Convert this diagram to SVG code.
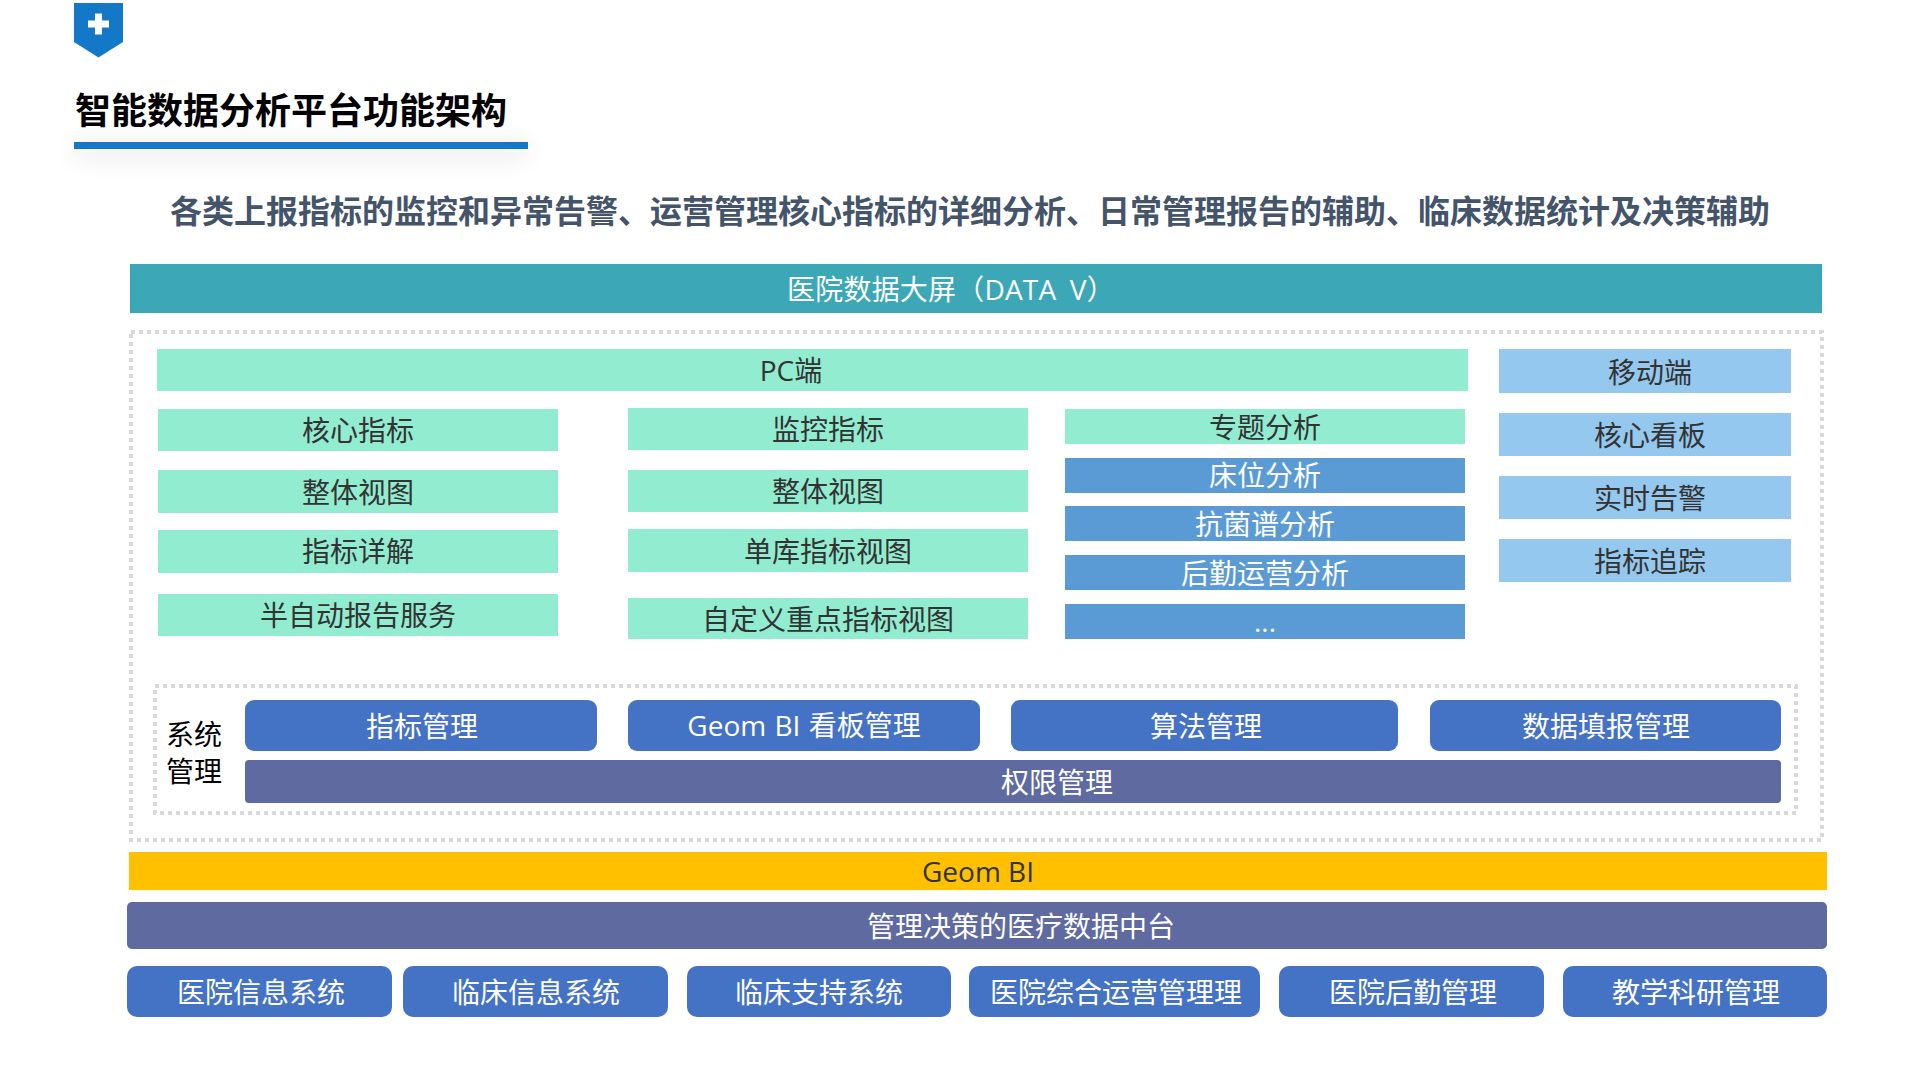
<svg xmlns="http://www.w3.org/2000/svg" width="1920" height="1080" viewBox="0 0 1920 1080">
<style>
text{font-family:"Open Sans","Noto Sans CJK SC",sans-serif;text-anchor:middle;font-size:28px;font-weight:400}
.w{fill:#fff}.d{fill:#333}.m{fill:#92ecd0}.l{fill:#94c8ee}.b{fill:#5b9bd5}.r{fill:#4472c4}.p{fill:#5e6aa0}
.dot{fill:none;stroke:#d9d9d9;stroke-width:4;stroke-dasharray:4 4}
</style>
<defs><filter id="s" x="-10%" y="-400%" width="120%" height="900%"><feGaussianBlur stdDeviation="12"/></filter></defs>
<rect width="1920" height="1080" fill="#fff"/>
<g id="header">
<path d="M74 3H123V42L98.500 57.500L74 42Z" fill="#1478c8"/>
<path d="M95 13.500h7v7h7v7h-7v7h-7v-7h-7v-7h7z" fill="#fff"/>
<text x="291" y="124" style="font-size:36px;font-weight:700" fill="#000">智能数据分析平台功能架构</text>
<rect x="74" y="144" width="454" height="14" fill="#000" opacity=".09" filter="url(#s)"/>
<rect x="74" y="142" width="454" height="7" fill="#1478c8"/>
<text x="970" y="223" style="font-size:32px;font-weight:700" fill="#44546a">各类上报指标的监控和异常告警、运营管理核心指标的详细分析、日常管理报告的辅助、临床数据统计及决策辅助</text>
</g>
<g id="frames">
<rect class="dot" x="131" y="332" width="1691" height="508"/>
<rect class="dot" x="155" y="686" width="1641" height="127"/>
</g>
<g id="dataV"><rect x="130" y="264" width="1692" height="49" fill="#3ba7b7"/><text class="w" x="951" y="300" style="word-spacing:6px;letter-spacing:.2px">医院数据大屏（DATA V）</text></g>
<g id="pc"><rect class="m" x="157" y="349" width="1311" height="42"/><text class="d" x="791" y="381">PC端</text></g>
<g id="n1"><rect class="m" x="158" y="409" width="400" height="42"/><text class="d" x="358" y="441">核心指标</text></g>
<g id="n2"><rect class="m" x="158" y="470" width="400" height="43"/><text class="d" x="358" y="503">整体视图</text></g>
<g id="n3"><rect class="m" x="158" y="530" width="400" height="43"/><text class="d" x="358" y="562">指标详解</text></g>
<g id="n4"><rect class="m" x="158" y="594" width="400" height="42"/><text class="d" x="358" y="626">半自动报告服务</text></g>
<g id="n5"><rect class="m" x="628" y="408" width="400" height="42"/><text class="d" x="828" y="440">监控指标</text></g>
<g id="n6"><rect class="m" x="628" y="470" width="400" height="42"/><text class="d" x="828" y="502">整体视图</text></g>
<g id="n7"><rect class="m" x="628" y="529" width="400" height="43"/><text class="d" x="828" y="562">单库指标视图</text></g>
<g id="n8"><rect class="m" x="628" y="598" width="400" height="41"/><text class="d" x="828" y="630">自定义重点指标视图</text></g>
<g id="n9"><rect class="m" x="1065" y="409" width="400" height="35"/><text class="d" x="1265" y="438">专题分析</text></g>
<g id="n10"><rect class="b" x="1065" y="458" width="400" height="35"/><text class="w" x="1265" y="486">床位分析</text></g>
<g id="n11"><rect class="b" x="1065" y="506" width="400" height="35"/><text class="w" x="1265" y="535">抗菌谱分析</text></g>
<g id="n12"><rect class="b" x="1065" y="555" width="400" height="35"/><text class="w" x="1265" y="584">后勤运营分析</text></g>
<g id="n13"><rect class="b" x="1065" y="604" width="400" height="35"/><text class="w" x="1265" y="632">...</text></g>
<g id="m1"><rect class="l" x="1499" y="349" width="292" height="44"/><text class="d" x="1650" y="383">移动端</text></g>
<g id="m2"><rect class="l" x="1499" y="413" width="292" height="43"/><text class="d" x="1650" y="446">核心看板</text></g>
<g id="m3"><rect class="l" x="1499" y="476" width="292" height="43"/><text class="d" x="1650" y="509">实时告警</text></g>
<g id="m4"><rect class="l" x="1499" y="539" width="292" height="43"/><text class="d" x="1650" y="572">指标追踪</text></g>
<g id="sys"><text x="194" y="745" fill="#000">系统</text><text x="194" y="782" fill="#000">管理</text></g>
<g id="s1"><rect class="r" x="245" y="700" width="352" height="51" rx="9"/><text class="w" x="422" y="737">指标管理</text></g>
<g id="s2"><rect class="r" x="628" y="700" width="352" height="51" rx="9"/><text class="w" x="804" y="736" style="word-spacing:1px">Geom BI 看板管理</text></g>
<g id="s3"><rect class="r" x="1011" y="700" width="387" height="51" rx="9"/><text class="w" x="1206" y="737">算法管理</text></g>
<g id="s4"><rect class="r" x="1430" y="700" width="351" height="51" rx="9"/><text class="w" x="1606" y="737">数据填报管理</text></g>
<g id="s5"><rect class="p" x="245" y="760" width="1536" height="43" rx="4"/><text class="w" x="1057" y="793">权限管理</text></g>
<g id="geom"><rect x="129" y="852" width="1698" height="38" fill="#ffc000"/><text class="d" x="978" y="882">Geom BI</text></g>
<g id="mid"><rect class="p" x="127" y="902" width="1700" height="47" rx="5"/><text class="w" x="1021" y="937">管理决策的医疗数据中台</text></g>
<g id="b1"><rect class="r" x="127" y="966" width="265" height="51" rx="10"/><text class="w" x="261" y="1003">医院信息系统</text></g>
<g id="b2"><rect class="r" x="403" y="966" width="265" height="51" rx="10"/><text class="w" x="536" y="1003">临床信息系统</text></g>
<g id="b3"><rect class="r" x="687" y="966" width="264" height="51" rx="10"/><text class="w" x="819" y="1003">临床支持系统</text></g>
<g id="b4"><rect class="r" x="969" y="966" width="291" height="51" rx="10"/><text class="w" x="1116" y="1003">医院综合运营管理理</text></g>
<g id="b5"><rect class="r" x="1279" y="966" width="265" height="51" rx="10"/><text class="w" x="1413" y="1003">医院后勤管理</text></g>
<g id="b6"><rect class="r" x="1563" y="966" width="264" height="51" rx="10"/><text class="w" x="1696" y="1003">教学科研管理</text></g>
<g id="connectors"></g>
</svg>
